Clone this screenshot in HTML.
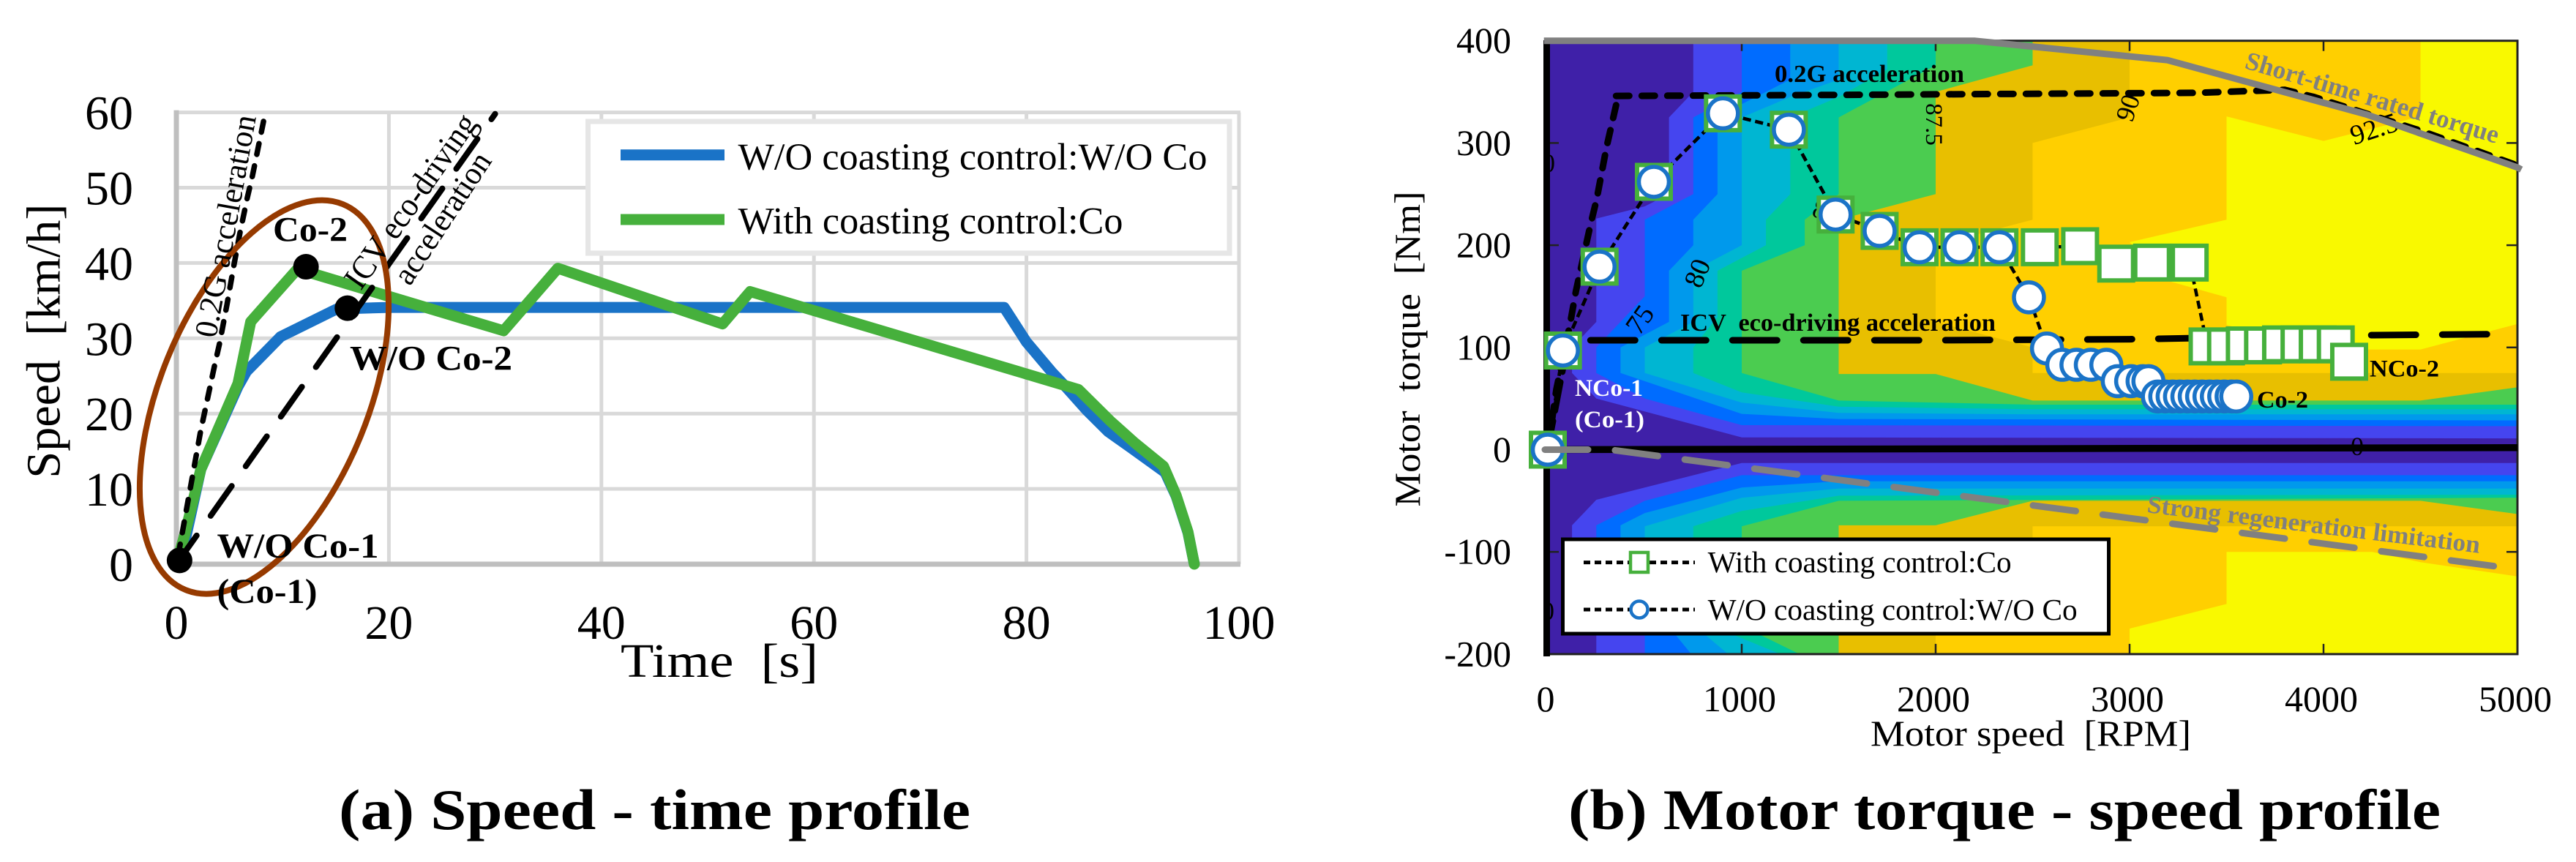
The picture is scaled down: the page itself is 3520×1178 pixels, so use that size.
<!DOCTYPE html>
<html lang="en">
<head>
<meta charset="utf-8">
<title>Speed-time and motor torque-speed profiles</title>
<style>
html,body{margin:0;padding:0;background:#fff;}
body{width:3520px;height:1178px;overflow:hidden;}
svg{display:block;}
text{font-family:"Liberation Serif","DejaVu Serif",serif;fill:#000;white-space:pre;}
.b{font-weight:bold;}
</style>
</head>
<body>
<svg id="fig" xmlns="http://www.w3.org/2000/svg" width="3520" height="1178" viewBox="0 0 3520 1178">
  <defs>
    <clipPath id="plotClip"><rect x="2115" y="55" width="1325" height="839"/></clipPath>
  </defs>
  <g id="chartA"></g>
  <g id="chartB"></g>
  <g id="chartBTop">
    <rect x="2135.5" y="737" width="746" height="129" fill="#fff" stroke="#000" stroke-width="5"/>
    <line x1="2164" y1="768.6" x2="2316" y2="768.6" stroke="#000" stroke-width="5" stroke-dasharray="9 6"/>
    <rect x="2228" y="755" width="24" height="27" fill="#fff" stroke="#46b03c" stroke-width="4.5"/>
    <line x1="2164" y1="833" x2="2316" y2="833" stroke="#000" stroke-width="5" stroke-dasharray="9 6"/>
    <circle cx="2240" cy="833" r="11.5" fill="#fff" stroke="#1a73c7" stroke-width="4.5"/>
    <text x="2333.6" y="782" font-size="41" textLength="415" lengthAdjust="spacingAndGlyphs">With coasting control:Co</text>
    <text x="2333.6" y="847" font-size="41" textLength="505" lengthAdjust="spacingAndGlyphs">W/O coasting control:W/O Co</text>
    <text class="b" transform="translate(3066,92.7) rotate(16.7)" font-size="35" style="fill:#808080" textLength="360" lengthAdjust="spacingAndGlyphs">Short-time rated torque</text>
    <text class="b" transform="translate(2933,700) rotate(7)" font-size="34" style="fill:#808080" textLength="458" lengthAdjust="spacingAndGlyphs">Strong regeneration limitation</text>
    <text class="b" x="2425" y="112" font-size="34" textLength="259" lengthAdjust="spacingAndGlyphs">0.2G acceleration</text>
    <text class="b" x="2296" y="452" font-size="34" textLength="431" lengthAdjust="spacingAndGlyphs">ICV  eco-driving acceleration</text>
    <text class="b" x="2152" y="541" font-size="33" style="fill:#fff" textLength="93" lengthAdjust="spacingAndGlyphs">NCo-1</text>
    <text class="b" x="2152" y="584" font-size="33" style="fill:#fff" textLength="95" lengthAdjust="spacingAndGlyphs">(Co-1)</text>
    <text class="b" x="3084" y="557" font-size="33" textLength="70" lengthAdjust="spacingAndGlyphs">Co-2</text>
    <text class="b" x="3238" y="514.5" font-size="33" textLength="95" lengthAdjust="spacingAndGlyphs">NCo-2</text>
    <text x="2556" y="1019" font-size="50" textLength="438" lengthAdjust="spacingAndGlyphs">Motor speed  [RPM]</text>
    <text transform="translate(1940,692.5) rotate(-90)" font-size="50" textLength="431" lengthAdjust="spacingAndGlyphs">Motor  torque  [Nm]</text>
  </g>
  <g id="chartAText">
    <rect x="803.5" y="166" width="876.5" height="180" fill="#fff" stroke="#e6e6e6" stroke-width="7"/>
    <line x1="848" y1="211.7" x2="990" y2="211.7" stroke="#1a73c7" stroke-width="15"/>
    <line x1="848" y1="300" x2="990" y2="300" stroke="#46b03c" stroke-width="15"/>
    <text x="1008.5" y="231.6" font-size="52" textLength="641" lengthAdjust="spacingAndGlyphs">W/O coasting control:W/O Co</text>
    <text x="1008.5" y="319" font-size="52" textLength="526" lengthAdjust="spacingAndGlyphs">With coasting control:Co</text>
    <text x="848" y="925" font-size="66" textLength="270" lengthAdjust="spacingAndGlyphs">Time  [s]</text>
    <text transform="translate(81.6,653.6) rotate(-90)" font-size="66" textLength="375" lengthAdjust="spacingAndGlyphs">Speed  [km/h]</text>
    <text class="b" x="373" y="329.6" font-size="48" textLength="102" lengthAdjust="spacingAndGlyphs">Co-2</text>
    <text class="b" x="478" y="505.6" font-size="48" textLength="222" lengthAdjust="spacingAndGlyphs">W/O Co-2</text>
    <text class="b" x="296.5" y="762" font-size="48" textLength="221" lengthAdjust="spacingAndGlyphs">W/O Co-1</text>
    <text class="b" x="296.5" y="824" font-size="48" textLength="137" lengthAdjust="spacingAndGlyphs">(Co-1)</text>
    <text transform="translate(295,463) rotate(-79.7)" font-size="44" textLength="308" lengthAdjust="spacingAndGlyphs">0.2G acceleration</text>
    <text transform="translate(493,398) rotate(-55)" font-size="46" textLength="280" lengthAdjust="spacingAndGlyphs">ICV eco-driving</text>
    <text transform="translate(560,392) rotate(-56.7)" font-size="44" textLength="206" lengthAdjust="spacingAndGlyphs">acceleration</text>
  </g>
  <text class="b" x="463" y="1133" font-size="78" textLength="863" lengthAdjust="spacingAndGlyphs">(a) Speed - time profile</text>
  <text class="b" x="2143" y="1133" font-size="78" textLength="1192" lengthAdjust="spacingAndGlyphs">(b) Motor torque - speed profile</text>
</svg>
<script>
// ---------- Chart (a) data ----------
const timeTicks = [0, 20, 40, 60, 80, 100];
const speedTicks = [0, 10, 20, 30, 40, 50, 60];
const noCoastTime = [0, 0.8, 2.3, 5.8, 6.6, 9.8, 15.1, 20, 40, 60, 77.9, 80, 82.4, 83.8, 85.7, 87.7, 89.8, 93.05, 94.1, 95.2, 95.8];
const noCoastSpeed = [0, 3, 12.6, 23.6, 25.6, 30.2, 33.9, 34.1, 34.1, 34.1, 34.1, 29.5, 25.5, 23.4, 20.4, 17.6, 15.5, 12.2, 9, 4.2, 0];
const coastTime = [0, 0.8, 2.3, 5.8, 7, 11.4, 30.8, 35.9, 51.4, 54, 84.9, 87.9, 90.2, 92.9, 94.1, 95.2, 95.8];
const coastSpeed = [0, 4, 12.6, 24, 32.2, 39.2, 31, 39.3, 31.9, 36.2, 23.2, 19, 16.1, 13, 9.1, 4.3, 0];
const accel02gTime = [8.2, 7.16, 6.68, 6, 5.44, 4.75, 4.06, 3.58, 2.27, 0.3, 0];
const accel02gSpeed = [58.8, 51.6, 48.7, 44.1, 39.9, 34.4, 29.3, 26.3, 17.6, 2.2, 0];
const accelIcvTime = [0, 30];
const accelIcvSpeed = [0, 59.8];
const keyPointTime = [0.3, 12.2, 16.1];
const keyPointSpeed = [0.5, 39.5, 34];

// ---------- Chart (b) data ----------
const rpmTicks = [0, 1000, 2000, 3000, 4000, 5000];
const torqueTicks = [-200, -100, 0, 100, 200, 300, 400];
// efficiency band boundaries as [rpm, torque] traces, low band to high band
const bandUpper1 = [[750,400],[750,350],[625,325],[625,250],[500,238],[250,226],[250,125],[125,100],[125,75],[250,50],[1000,12],[5000,11]];
const bandUpper2 = [[1000,400],[1000,350],[750,325],[750,250],[500,225],[500,150],[250,100],[250,75],[500,50],[1000,24],[5000,23]];
const bandUpper3 = [[1250,400],[1250,362],[1000,338],[875,325],[875,250],[750,225],[750,200],[625,175],[625,125],[375,100],[375,75],[1000,35],[1500,30],[5000,28.6]];
const bandUpper4 = [[1500,400],[1500,362],[1250,345],[1000,325],[1000,200],[750,175],[750,125],[500,100],[500,75],[1000,46],[1500,36],[2500,34.5],[5000,34.5]];
const bandUpper5 = [[1750,400],[1750,372],[1500,345],[1250,325],[1250,250],[1125,225],[1125,200],[875,175],[875,130],[750,100],[750,75],[1000,56],[1500,42],[2500,39.6],[5000,39.6]];
const bandUpper6 = [[2000,400],[2000,376],[1500,325],[1500,250],[1325,225],[1325,200],[1000,175],[1000,75],[1500,48],[2500,44],[5000,44]];
const bandUpper7 = [[2500,400],[2500,376],[2000,350],[2000,250],[1500,225],[1500,74],[2000,74],[2500,48],[4500,48],[5000,61]];
const bandUpper8 = [[3000,400],[3000,325],[2500,300],[2500,225],[2000,200],[2000,125],[2500,100],[2500,75],[5000,75]];
const bandUpper9 = [[4500,400],[4500,326],[4000,302],[3500,326],[3500,225],[3000,203],[3200,165],[3500,149],[3500,122],[4000,98],[4500,98],[5000,123]];
const bandLower1 = [[5000,-13],[1000,-13],[250,-49],[125,-74],[125,-120],[250,-150],[250,-200]];
const bandLower2 = [[5000,-25],[1000,-25],[500,-50],[250,-74],[250,-130],[500,-180],[500,-200]];
const bandLower3 = [[5000,-31],[1500,-31],[1000,-37],[500,-62],[375,-74],[375,-125],[654,-180],[740,-200]];
const bandLower4 = [[5000,-38],[1500,-38],[1000,-47],[500,-75],[500,-125],[805,-180],[930,-200]];
const bandLower5 = [[5000,-44],[1500,-45],[1000,-60],[750,-75],[750,-125],[944,-180],[1200,-200]];
const bandLower6 = [[5000,-47],[1500,-50],[1000,-75],[1000,-125],[1083,-180],[1298,-200]];
const bandLower7 = [[5000,-63],[4500,-50],[2500,-50],[2000,-74],[1500,-74],[1500,-200]];
const bandLower8 = [[5000,-75],[2500,-75],[2500,-100],[2000,-125],[2000,-200]];
const bandLower9 = [[5000,-124],[4500,-110],[4250,-100],[3500,-100],[3500,-151],[3000,-175],[3000,-200]];

const zeroLineRpm = [0, 5000];
const zeroLineTorque = [0, 2];
const ratedRpm = [-20, 2200, 3195, 4220, 5000, 5020];
const ratedTorque = [400, 400, 381, 328, 276, 274];
const regenRpm = [-15, 320, 5000];
const regenTorque = [0, 0, -117];
const rampRpm = [352, 302, 252, 220, 145, 113, 44, 0];
const rampTorque = [337, 295, 245, 220, 155, 121, 59, 0];
const flatRpm = [352, 1500, 3340, 3800, 3950, 4500, 5000];
const flatTorque = [346, 347, 349, 352, 345, 312, 278];
const lineIcvRpm = [220, 2000, 3000, 4260, 4891];
const lineIcvTorque = [107, 107, 108, 112, 113];
const icvRiseRpm = [0, 100, 220];
const icvRiseTorque = [0, 100, 107];

const squareRpm = [0,78,267,547,903,1243,1484,1711,1917,2123,2329,2537,2745,2931,3116,3310,3402,3497,3594,3688,3781,3876,3970,4063,4132];
const squareTorque = [0,97,179,262,329,313,230,214,198,198,198,198,199,182,183,183,101,101,102,102,103,103,103,103,86];
const circleRpm = [0,78,267,547,903,1243,1484,1711,1917,2123,2329,2481,2574,2653,2726,2800,2880,2939,3008,3067,3097,3146,3184,3222,3260,3298,3336,3374,3412,3450,3488,3526,3550];
const circleTorque = [0,97,179,262,329,313,230,214,198,198,198,149,99,83,83,83,83,67,67,67,67,52,52,52,52,52,52,52,52,52,52,52,52];

// ---------- Drawing ----------
const bandColors = ['#4545ef','#006cff','#0099ec','#00b6d2','#00c89c','#4bcc50','#e8bf00','#ffcf00','#f9f900'];
const bandUppers = [bandUpper1,bandUpper2,bandUpper3,bandUpper4,bandUpper5,bandUpper6,bandUpper7,bandUpper8,bandUpper9];
const bandLowers = [bandLower1,bandLower2,bandLower3,bandLower4,bandLower5,bandLower6,bandLower7,bandLower8,bandLower9];

const NS = 'http://www.w3.org/2000/svg';
const xA = t => 241 + t * 14.52;
const yA = v => 771 - v * 10.29;
const xB = r => 2115 + r * 0.265;
const yB = t => 614.5 - t * 1.397;
const chartA = document.getElementById('chartA');
const chartB = document.getElementById('chartB');

function mk(parent, tag, attrs, txt) {
  const el = document.createElementNS(NS, tag);
  for (const k in attrs) el.setAttribute(k, attrs[k]);
  if (txt !== undefined) el.textContent = txt;
  parent.appendChild(el);
  return el;
}
function pathOf(xs, ys, fx, fy) {
  return xs.map((x, i) => (i ? 'L' : 'M') + fx(x).toFixed(1) + ' ' + fy(ys[i]).toFixed(1)).join(' ');
}
function polyOf(trace, corner) {
  return trace.concat([corner]).map(p => xB(p[0]).toFixed(1) + ',' + yB(p[1]).toFixed(1)).join(' ');
}

// ---- Chart (a) ----
timeTicks.forEach(t => {
  if (t === 0) return;
  const g = mk(chartA, 'line', {x1: xA(t), x2: xA(t), y1: yA(60), y2: yA(0), stroke: '#d9d9d9', 'stroke-width': 5});
  
  
});
speedTicks.forEach(v => {
  if (v === 0) return;
  const g = mk(chartA, 'line', {x1: xA(0), x2: xA(100) + 2, y1: yA(v), y2: yA(v), stroke: '#d9d9d9', 'stroke-width': 5});
  
  
});
const axAx = mk(chartA, 'line', {x1: xA(0) - 3, x2: xA(100) + 2, y1: yA(0), y2: yA(0), stroke: '#bfbfbf', 'stroke-width': 7});


const axAy = mk(chartA, 'line', {x1: xA(0), x2: xA(0), y1: yA(60) - 3, y2: yA(0), stroke: '#bfbfbf', 'stroke-width': 7});


timeTicks.forEach(t => {
  const l = mk(chartA, 'text', {x: xA(t), y: 873, 'font-size': 66, 'text-anchor': 'middle'}, String(t));
  
  
});
speedTicks.forEach(v => {
  const l = mk(chartA, 'text', {x: 182, y: yA(v) + 23, 'font-size': 66, 'text-anchor': 'end'}, String(v));
  
  
});
const blueLine = mk(chartA, 'path', {d: pathOf(noCoastTime, noCoastSpeed, xA, yA), fill: 'none', stroke: '#1a73c7', 'stroke-width': 15, 'stroke-linejoin': 'round'});


const greenLine = mk(chartA, 'path', {d: pathOf(coastTime, coastSpeed, xA, yA), fill: 'none', stroke: '#46b03c', 'stroke-width': 15, 'stroke-linejoin': 'round', 'stroke-linecap': 'round'});


const a02 = mk(chartA, 'path', {d: pathOf(accel02gTime, accel02gSpeed, xA, yA), fill: 'none', stroke: '#000', 'stroke-width': 7.5, 'stroke-linecap': 'round', 'stroke-dasharray': '15 16'});


const aIcv = mk(chartA, 'path', {d: pathOf(accelIcvTime, accelIcvSpeed, xA, yA), fill: 'none', stroke: '#000', 'stroke-width': 8, 'stroke-linecap': 'round', 'stroke-dasharray': '50 33', 'stroke-dashoffset': '2'});


const brown = mk(chartA, 'ellipse', {cx: 361, cy: 542.6, rx: 284.6, ry: 142.3, fill: 'none', stroke: '#963a00', 'stroke-width': 8, transform: 'rotate(-67.8 361 542.6)'});


keyPointTime.forEach((t, i) => {
  const d = mk(chartA, 'circle', {cx: xA(t), cy: yA(keyPointSpeed[i]), r: 17.5, fill: '#000'});
  
  
});

// ---- Chart (b) ----
const plotG = mk(chartB, 'g', {'clip-path': 'url(#plotClip)'});


const bg = mk(plotG, 'rect', {x: xB(0), y: yB(400), width: xB(5000) - xB(0), height: yB(-200) - yB(400), fill: '#3f20a8'});


bandUppers.forEach((trace, i) => {
  const up = mk(plotG, 'polygon', {points: polyOf(trace, [5000, 400]), fill: bandColors[i]});
  
  
  const lo = mk(plotG, 'polygon', {points: polyOf(bandLowers[i], [5000, -200]), fill: bandColors[i]});
  
  
});

const contourLabels = [
  ['75', 2251, 444, -55, 38], ['80', 2331, 378, -68, 38], ['85', 2492, 300, 15, 36],
  ['87.5', 2632, 170, 90, 33], ['90', 2919, 151, -72, 36], ['92.5', 3248, 188, -18, 38],
  ['0', 2116, 235, 0, 36], ['0', 2115, 847, 0, 36], ['0', 3221, 622, 0, 36]
];
contourLabels.forEach(c => {
  const t = mk(plotG, 'text', {'font-size': c[4], 'text-anchor': 'middle', transform: 'translate(' + c[1] + ',' + c[2] + ') rotate(' + c[3] + ')'}, c[0]);
  
  
});

const frame = mk(chartB, 'rect', {x: xB(0), y: yB(400), width: xB(5000) - xB(0), height: yB(-200) - yB(400), fill: 'none', stroke: '#222', 'stroke-width': 3});


rpmTicks.slice(1, 5).forEach(r => {
  [[yB(400), yB(400) + 14], [yB(-200), yB(-200) - 14]].forEach(s => {
    const k = mk(chartB, 'line', {x1: xB(r), x2: xB(r), y1: s[0], y2: s[1], stroke: '#222', 'stroke-width': 2.5});
    
    
  });
});
torqueTicks.slice(1, 6).forEach(t => {
  [[xB(0), xB(0) + 15], [xB(5000), xB(5000) - 15]].forEach(s => {
    const k = mk(chartB, 'line', {x1: s[0], x2: s[1], y1: yB(t), y2: yB(t), stroke: '#222', 'stroke-width': 2.5});
    
    
  });
});
rpmTicks.forEach(r => {
  const l = mk(chartB, 'text', {x: xB(r) - 3, y: 972, 'font-size': 50, 'text-anchor': 'middle'}, String(r));
  
  
});
torqueTicks.forEach(t => {
  const l = mk(chartB, 'text', {x: 2065, y: yB(t) + 16.5, 'font-size': 50, 'text-anchor': 'end'}, String(t));
  
  
});

const zeroLine = mk(chartB, 'path', {d: pathOf(zeroLineRpm, zeroLineTorque, xB, yB), fill: 'none', stroke: '#000', 'stroke-width': 9.5});


const leftBar = mk(chartB, 'line', {x1: 2113.5, x2: 2113.5, y1: 55, y2: 897, stroke: '#000', 'stroke-width': 9});



const ramp02 = mk(chartB, 'path', {d: pathOf(rampRpm, rampTorque, xB, yB), fill: 'none', stroke: '#000', 'stroke-width': 9, 'stroke-linecap': 'round', 'stroke-dasharray': '18 17'});


const flat02 = mk(chartB, 'path', {d: pathOf(flatRpm, flatTorque, xB, yB), fill: 'none', stroke: '#000', 'stroke-width': 9, 'stroke-linecap': 'round', 'stroke-dasharray': '18 17'});


const riseIcv = mk(chartB, 'path', {d: pathOf(icvRiseRpm.slice(0, 2), icvRiseTorque.slice(0, 2), xB, yB), fill: 'none', stroke: '#000', 'stroke-width': 8, 'stroke-linecap': 'round', 'stroke-dasharray': '40 14'});


const lIcv = mk(chartB, 'path', {d: pathOf(lineIcvRpm, lineIcvTorque, xB, yB), fill: 'none', stroke: '#000', 'stroke-width': 9, 'stroke-linecap': 'round', 'stroke-dasharray': '61 36'});



const rated = mk(chartB, 'path', {d: pathOf(ratedRpm, ratedTorque, xB, yB), fill: 'none', stroke: '#808080', 'stroke-width': 9});



const sqLine = mk(chartB, 'path', {d: pathOf(squareRpm, squareTorque, xB, yB), fill: 'none', stroke: '#000', 'stroke-width': 4.5, 'stroke-dasharray': '11 6'});


const ciLine = mk(chartB, 'path', {d: pathOf(circleRpm, circleTorque, xB, yB), fill: 'none', stroke: '#000', 'stroke-width': 4.5, 'stroke-dasharray': '11 6'});



squareRpm.forEach((r, i) => {
  const s = mk(chartB, 'rect', {x: xB(r) - 23, y: yB(squareTorque[i]) - 23, width: 46, height: 46, fill: '#fff', stroke: '#46b03c', 'stroke-width': 6});
  
  
});
circleRpm.forEach((r, i) => {
  const c = mk(chartB, 'circle', {cx: xB(r), cy: yB(circleTorque[i]), r: 20.5, fill: '#fff', stroke: '#1a73c7', 'stroke-width': 5.5});
  
  
});

const regen = mk(chartB, 'path', {d: pathOf(regenRpm, regenTorque, xB, yB), fill: 'none', stroke: '#808080', 'stroke-width': 9, 'stroke-linecap': 'round', 'stroke-dasharray': '59 37'});


</script>
</body>
</html>
